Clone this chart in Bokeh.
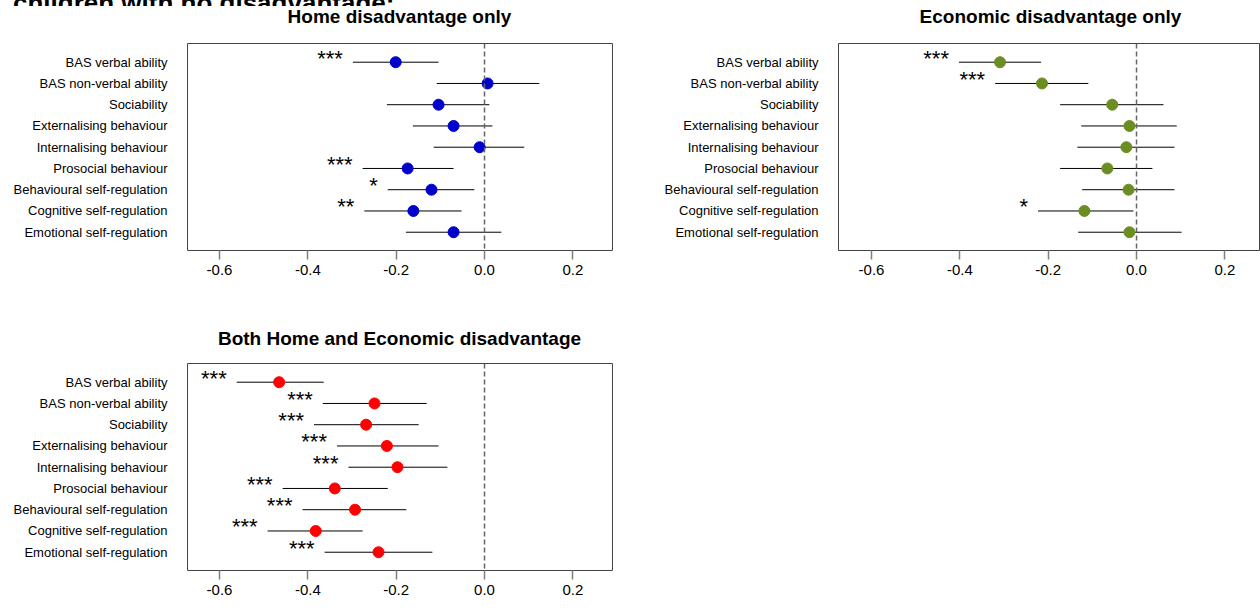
from bokeh.plotting import figure
from bokeh.layouts import column, row
from bokeh.models import Range1d, FixedTicker, Span, Div, PrintfTickFormatter
from bokeh.core.properties import value
from bokeh.embed import file_html
from bokeh.resources import INLINE

FONT = "Liberation Sans"

outcomes = ["BAS verbal ability", "BAS non-verbal ability", "Sociability",
            "Externalising behaviour", "Internalising behaviour", "Prosocial behaviour",
            "Behavioural self-regulation", "Cognitive self-regulation",
            "Emotional self-regulation"]
x_ticks = [-0.6, -0.4, -0.2, 0.0, 0.2]

home_est = [-0.201, 0.007, -0.104, -0.070, -0.011, -0.174, -0.120, -0.161, -0.070]
home_lo = [-0.298, -0.108, -0.221, -0.162, -0.115, -0.276, -0.219, -0.272, -0.178]
home_hi = [-0.104, 0.124, 0.011, 0.018, 0.090, -0.070, -0.023, -0.052, 0.038]
home_sig = ["***", "", "", "", "", "***", "*", "**", ""]

econ_est = [-0.309, -0.214, -0.055, -0.016, -0.023, -0.066, -0.018, -0.118, -0.016]
econ_lo = [-0.402, -0.320, -0.173, -0.125, -0.134, -0.173, -0.123, -0.223, -0.132]
econ_hi = [-0.216, -0.109, 0.061, 0.091, 0.086, 0.036, 0.086, -0.007, 0.102]
econ_sig = ["***", "***", "", "", "", "", "", "*", ""]

both_est = [-0.465, -0.249, -0.268, -0.221, -0.197, -0.339, -0.293, -0.382, -0.240]
both_lo = [-0.561, -0.366, -0.386, -0.334, -0.308, -0.457, -0.412, -0.491, -0.362]
both_hi = [-0.364, -0.131, -0.149, -0.104, -0.084, -0.219, -0.177, -0.276, -0.118]
both_sig = ["***", "***", "***", "***", "***", "***", "***", "***", "***"]


def title_div(text, w, h, mt):
    html = ('<div style="width:425px; margin-left:187px; margin-top:%dpx; '
            'text-align:center; font-family:\'Liberation Sans\'; font-weight:bold; '
            'font-size:19px; line-height:22px; white-space:nowrap; color:black;">%s</div>'
            % (mt, text))
    return Div(text=html, width=w, height=h, margin=0)


def panel(est, lo, hi, sig, color, w, h, top, bottom, right, xr):
    ys = list(range(1, len(outcomes) + 1))
    p = figure(width=w, height=h, x_range=Range1d(*xr), y_range=Range1d(9.86, 0.12),
               output_backend="svg", toolbar_location=None,
               min_border_left=187, min_border_right=right,
               min_border_top=top, min_border_bottom=bottom)
    p.xgrid.visible = False
    p.ygrid.visible = False
    p.outline_line_color = "#444444"
    p.outline_line_width = 1
    p.background_fill_color = "white"
    p.border_fill_color = "white"

    xa = p.xaxis[0]
    xa.ticker = FixedTicker(ticks=x_ticks)
    xa.formatter = PrintfTickFormatter(format="%.1f")
    xa.axis_line_color = None
    xa.major_tick_out = 9
    xa.major_tick_in = 0
    xa.major_tick_line_color = "#808080"
    xa.major_tick_line_width = 1.5
    xa.minor_tick_line_color = None
    xa.major_label_standoff = 5
    xa.major_label_text_font = FONT
    xa.major_label_text_font_size = "15px"
    xa.major_label_text_color = "black"

    ya = p.yaxis[0]
    ya.ticker = FixedTicker(ticks=ys)
    ya.major_label_overrides = {y: name for y, name in zip(ys, outcomes)}
    ya.axis_line_color = None
    ya.major_tick_out = 0
    ya.major_tick_in = 0
    ya.major_tick_line_color = None
    ya.minor_tick_line_color = None
    ya.major_label_standoff = 20
    ya.major_label_text_font = FONT
    ya.major_label_text_font_size = "13px"
    ya.major_label_text_color = "black"

    p.add_layout(Span(location=0, dimension="height", line_color="#666666",
                      line_width=1.5, line_dash="5 3"))
    p.segment(x0=lo, y0=ys, x1=hi, y1=ys, line_color="black", line_width=1)
    p.scatter(x=est, y=ys, size=11, fill_color=color, line_color=color)
    p.text(x=lo, y=ys, text=sig, text_align="right", text_baseline="middle",
           x_offset=-10, y_offset=-4, text_font=value(FONT), text_font_size="22px",
           text_color="black")
    return p


p1 = panel(home_est, home_lo, home_hi, home_sig, "#0000CD",
           651, 285, 13, 65, 39, (-0.6724, 0.2898))
p2 = panel(econ_est, econ_lo, econ_hi, econ_sig, "#6B8E23",
           609, 285, 13, 65, 0, (-0.6747, 0.2807))
p3 = panel(both_est, both_lo, both_hi, both_sig, "#FF0000",
           651, 258, 13, 38, 39, (-0.6724, 0.2898))

t1 = title_div("Home disadvantage only", 651, 24, 0)
t2 = title_div("Economic disadvantage only", 609, 24, 0)
t3 = title_div("Both Home and Economic disadvantage", 651, 35, 13)

head = Div(text=('<div style="margin-top:-25px; padding-left:13px; '
                 'font-family:\'Liberation Sans\'; '
                 'font-weight:bold; font-size:26px; line-height:30px; white-space:nowrap; '
                 'color:black;">children with no disadvantage:</div>'),
           width=1260, height=6, margin=0, styles={"overflow": "hidden"})

layout = column(head, row(column(t1, p1), column(t2, p2)), column(t3, p3))
open("out.html", "w").write(file_html(layout, INLINE))
